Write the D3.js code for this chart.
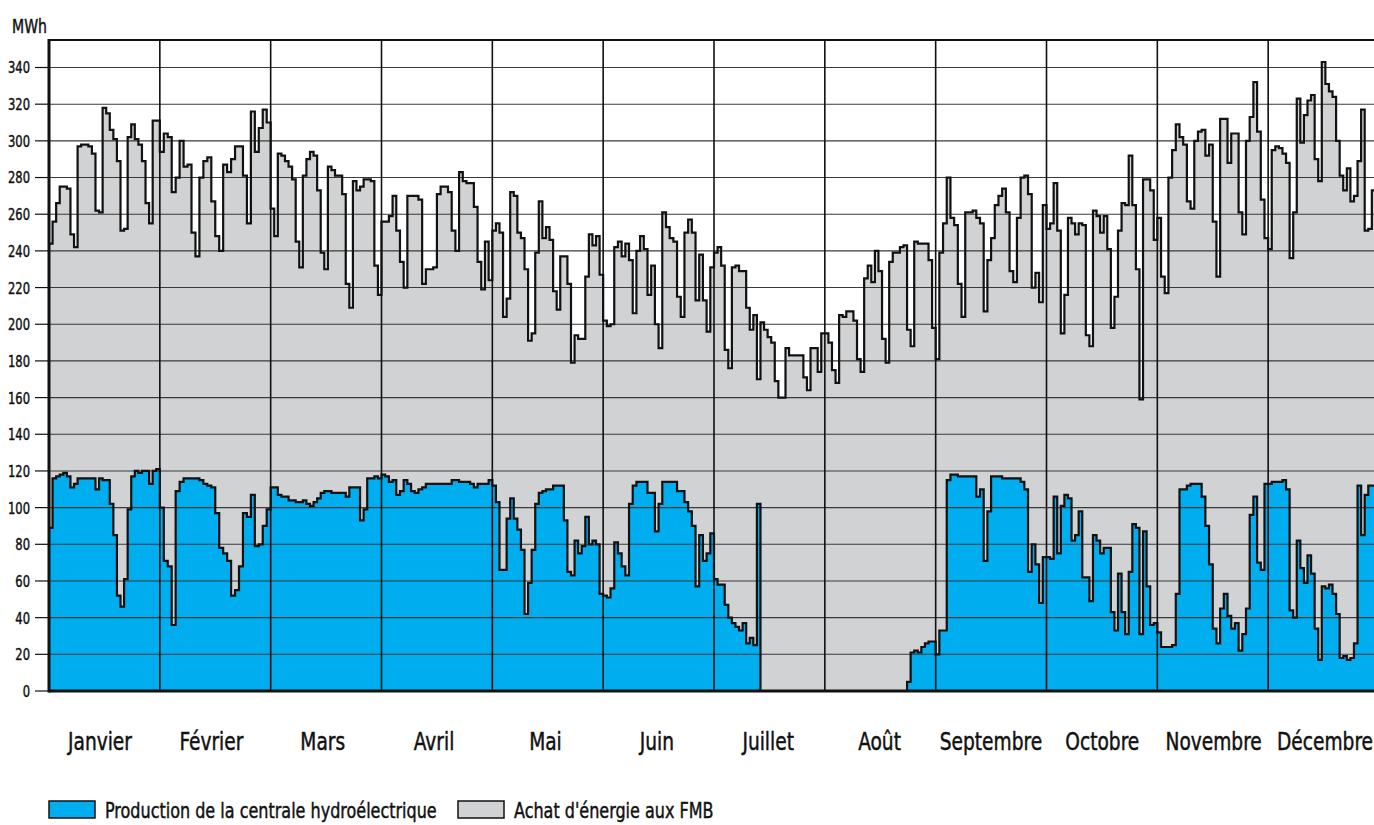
<!DOCTYPE html>
<html><head><meta charset="utf-8">
<script src="https://cdn.jsdelivr.net/npm/d3@7/dist/d3.min.js"></script>
<style>
html,body{margin:0;padding:0;background:#fff;}
svg text{font-family:"DejaVu Sans Condensed","DejaVu Sans",sans-serif;fill:#111;stroke:#111;stroke-width:0.45px;}
</style></head>
<body>
<svg id="chart" width="1374" height="825"></svg>
<script>
const months = ["Janvier","Février","Mars","Avril","Mai","Juin","Juillet","Août","Septembre","Octobre","Novembre","Décembre"];
const yTicks = [0,20,40,60,80,100,120,140,160,180,200,220,240,260,280,300,320,340];
const seriesNames = ["Production de la centrale hydroélectrique","Achat d'énergie aux FMB"];

// Total daily consumption (top of grey area), one array per month, MWh
const consommation = [
 [244,256,266,275,275,274,249,242,297,298,298,297,293,262,261,318,315,306,301,289,251,252,302,309,301,298,289,266,255,311,311],
 [294,304,302,272,280,300,286,287,250,237,280,289,291,267,248,240,287,283,290,297,297,281,255,316,294,307,317,310],
 [263,248,293,292,289,286,279,245,231,281,290,294,292,273,239,230,286,284,281,281,271,222,209,278,273,275,279,279,278,232,216],
 [256,256,259,270,251,234,220,270,270,270,268,222,230,230,231,271,275,275,272,251,240,283,278,277,277,264,234,219,245,224],
 [251,255,250,204,214,272,270,250,247,230,191,195,239,267,247,253,246,218,208,237,237,222,179,194,192,192,226,249,243,248,227],
 [202,199,200,242,245,237,244,235,206,240,248,241,216,232,200,187,261,253,247,245,215,204,250,257,250,213,238,213,196,231],
 [239,242,232,186,176,231,232,229,229,209,197,205,170,201,197,193,190,169,160,160,187,183,183,183,183,171,164,187,187,174,195],
 [195,190,175,168,205,204,207,207,202,181,174,225,232,223,240,229,192,179,234,239,239,242,243,197,188,245,244,244,244,235,198],
 [181,239,255,280,258,254,222,204,261,261,262,258,255,207,235,247,265,270,274,261,229,223,258,280,281,271,220,228,212,265],
 [252,255,277,251,195,216,258,255,249,255,254,194,188,262,259,250,259,241,198,215,251,266,265,292,265,230,159,279,279,273,246],
 [258,226,217,280,295,309,302,298,267,263,300,305,306,292,298,256,226,312,312,288,304,304,261,249,300,313,332,305,268,247],
 [241,295,297,296,293,288,236,261,323,299,314,322,325,290,278,343,331,327,324,300,281,273,285,267,270,289,317,251,252,273,273]
];

// Daily hydro production (blue area), one array per month, MWh
const production = [
 [89,116,117,118,119,117,111,113,116,116,116,116,116,110,116,115,115,102,85,52,46,61,99,117,120,119,120,120,113,120,121],
 [100,71,68,36,109,114,116,116,116,116,115,113,112,111,97,78,75,71,52,55,68,97,95,107,79,80,90,99],
 [111,111,107,106,106,104,104,103,103,104,102,101,103,105,108,109,109,108,108,108,108,106,111,111,111,93,99,116,116,117,116],
 [118,117,114,115,107,109,115,113,109,108,110,111,113,113,113,113,113,113,113,115,115,114,114,114,113,111,113,113,113,115],
 [112,103,66,66,94,105,94,88,77,42,59,77,102,108,109,110,110,112,112,112,93,65,63,82,75,79,95,80,82,80,53],
 [52,51,56,81,75,68,63,102,112,114,114,114,108,108,87,102,114,114,114,114,109,109,103,98,90,57,85,71,75,86],
 [61,58,58,47,40,37,35,33,37,26,29,25,102,0,0,0,0,0,0,0,0,0,0,0,0,0,0,0,0,0,0],
 [0,0,0,0,0,0,0,0,0,0,0,0,0,0,0,0,0,0,0,0,0,0,0,5,21,22,21,24,26,27,27],
 [20,33,33,115,118,118,117,117,117,117,117,106,110,71,98,117,117,117,116,116,116,116,116,114,110,65,80,69,48,73],
 [73,72,106,75,101,107,105,82,85,98,62,62,49,85,82,75,78,78,43,33,64,43,31,65,91,89,31,87,57,36,37],
 [32,24,24,24,25,53,110,110,112,113,113,113,106,90,69,34,26,45,53,41,34,37,22,31,45,96,106,70,66,113],
 [113,114,114,114,115,110,44,40,82,67,59,74,64,34,17,57,56,58,53,42,18,19,17,18,26,112,85,107,112,112,112]
];

const svg = d3.select("#chart");
const pL = 49, pR = 1379, pT = 40, pB = 691;

const x = d3.scaleBand().domain(months).range([pL, pR]).paddingInner(0).paddingOuter(0);
const xLabel = d3.scalePoint().domain(months).range([100, 1325]);
const y = d3.scaleLinear().domain([0, 355]).range([pB, pT]);

function stepPoints(series) {
  const out = [];
  series.forEach((arr, m) => {
    const x0 = x(months[m]), bw = x.bandwidth();
    arr.forEach((v, i) => out.push({x: x0 + i * bw / arr.length, v}));
  });
  out.push({x: pR, v: out[out.length - 1].v});
  return out;
}
const totalPts = stepPoints(consommation);
const prodPts = stepPoints(production);

const area = d3.area().curve(d3.curveStepAfter).x(d => d.x).y0(y(0)).y1(d => y(d.v));
const line = d3.line().curve(d3.curveStepAfter).x(d => d.x).y(d => y(d.v));

svg.append("path").attr("d", area(totalPts)).attr("fill", "#d1d2d4");
svg.append("path").attr("d", area(prodPts)).attr("fill", "#00adee");

// horizontal grid
svg.append("g").selectAll("line").data(yTicks.filter(t => t > 0)).join("line")
  .attr("x1", pL).attr("x2", pR).attr("y1", d => y(d)).attr("y2", d => y(d))
  .attr("stroke", "#3a3a3a").attr("stroke-width", 1.1);

// month separators
svg.append("g").selectAll("line").data(months.slice(1)).join("line")
  .attr("x1", d => x(d)).attr("x2", d => x(d)).attr("y1", pT).attr("y2", pB)
  .attr("stroke", "#111").attr("stroke-width", 1.6);

// outlines
svg.append("path").attr("d", line(totalPts)).attr("fill", "none").attr("stroke", "#111").attr("stroke-width", 2.2);
svg.append("path").attr("d", line(prodPts)).attr("fill", "none").attr("stroke", "#111").attr("stroke-width", 2.2);

// frame
svg.append("line").attr("x1", pL).attr("x2", pR).attr("y1", pT).attr("y2", pT).attr("stroke", "#111").attr("stroke-width", 2);
svg.append("line").attr("x1", pL).attr("x2", pR).attr("y1", pB).attr("y2", pB).attr("stroke", "#111").attr("stroke-width", 3);
svg.append("line").attr("x1", pL).attr("x2", pL).attr("y1", pT - 1).attr("y2", pB + 1.5).attr("stroke", "#111").attr("stroke-width", 3);

// condensed text helper: draws text at (tx,ty) compressed horizontally by factor s
function ctext(g, tx, ty, str, size, anchor, s, dy) {
  return g.append("text")
    .attr("transform", `translate(${tx},${ty}) scale(${s},1)`)
    .attr("text-anchor", anchor || "start")
    .attr("dy", dy || 0)
    .attr("font-size", size).text(str);
}
function measure(str, size) {
  const t = svg.append("text").attr("font-size", size).attr("x", -1000).attr("y", -1000).text(str);
  const w = t.node().getComputedTextLength();
  t.remove();
  return w;
}
// horizontal compression so the condensed face matches the original narrow type
const sTick = 22 / measure("340", 16.5);
const sMonth = 64 / measure("Janvier", 24);
const sLegend = 332 / measure(seriesNames[0], 22);
const sUnit = 35 / measure("MWh", 20);

// y axis ticks + labels
const yAxis = svg.append("g");
yAxis.selectAll("line").data(yTicks).join("line")
  .attr("x1", 35).attr("x2", pL).attr("y1", d => y(d)).attr("y2", d => y(d))
  .attr("stroke", "#111").attr("stroke-width", 1.2);
yTicks.forEach(t => ctext(yAxis, 30, y(t), String(t), 16.5, "end", sTick, "0.36em"));
ctext(svg, 12, 33, "MWh", 20, "start", sUnit);

// month labels
const mg = svg.append("g");
months.forEach(m => ctext(mg, xLabel(m), 750, m, 24, "middle", sMonth));

// legend
const legendColors = ["#00adee", "#d1d2d4"];
const legendX = [49, 458];
seriesNames.forEach((n, i) => {
  svg.append("rect").attr("x", legendX[i]).attr("y", 801).attr("width", 46).attr("height", 17)
    .attr("fill", legendColors[i]).attr("stroke", "#111").attr("stroke-width", 1.5);
  ctext(svg, legendX[i] + 56, 818, n, 22, "start", sLegend);
});
</script>
</body></html>
